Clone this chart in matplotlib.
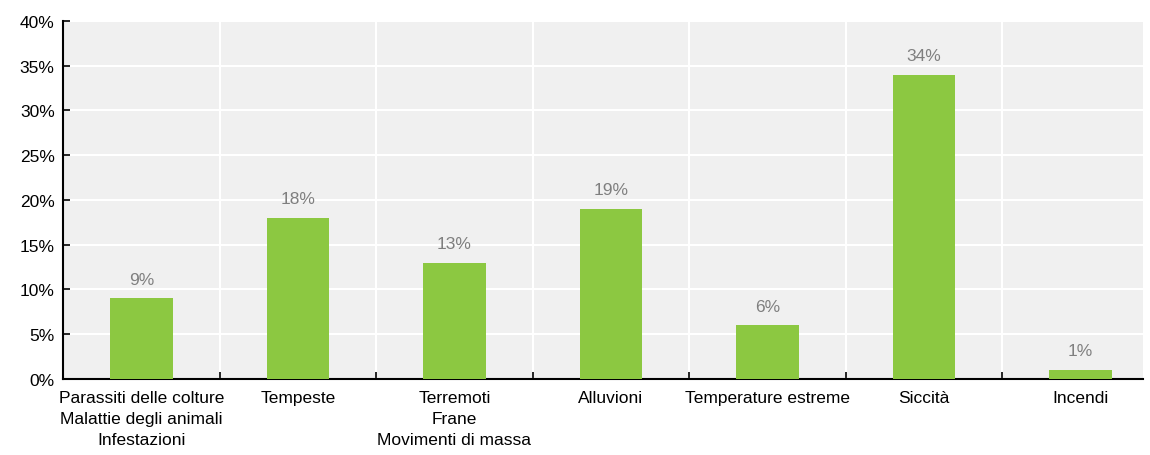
import numpy as np
import matplotlib.pyplot as plt
from matplotlib.ticker import PercentFormatter

plt.rcParams['font.family'] = ['Liberation Sans', 'DejaVu Sans']

categories = ["Parassiti delle colture\nMalattie degli animali\nInfestazioni",
              "Tempeste",
              "Terremoti\nFrane\nMovimenti di massa",
              "Alluvioni",
              "Temperature estreme",
              "Siccità",
              "Incendi"]
shares = [9, 18, 13, 19, 6, 34, 1]

fig = plt.figure(figsize=(11.5, 4.56), dpi=100)
ax = fig.add_axes([0.0548, 0.1667, 0.9392, 0.7851])
ax.set_facecolor('#f0f0f0')

x = np.arange(len(categories))
ax.bar(x, shares, width=0.40, color='#8cc841', zorder=3)
for xi, v in zip(x, shares):
    ax.text(xi, v + 1.3, f"{v}%", ha='center', va='bottom', fontsize=12.5, color='#7f7f7f')

ax.set_xlim(-0.5, 6.4)
ax.set_ylim(0, 40)
ax.set_yticks(np.arange(0, 41, 5))
ax.yaxis.set_major_formatter(PercentFormatter(decimals=0))

# category labels at centers, ticks/grid at boundaries
ax.set_xticks(x)
ax.set_xticklabels(categories, fontsize=12.5, linespacing=1.5)
ax.set_xticks(np.arange(-0.5, len(categories) - 1), minor=True)
ax.tick_params(axis='x', which='major', length=0, pad=8)
ax.tick_params(axis='x', which='minor', length=5, direction='in', width=1.2)
ax.tick_params(axis='y', length=5, direction='in', width=1.2, labelsize=12.5, pad=6)
ax.grid(True, axis='y', color='white', linewidth=1.5, zorder=1)
ax.grid(True, axis='x', which='minor', color='white', linewidth=1.5, zorder=1)

for side in ['top', 'right']:
    ax.spines[side].set_visible(False)
ax.spines['left'].set_linewidth(1.5)
ax.spines['bottom'].set_linewidth(1.5)
ax.set_axisbelow(True)

fig.savefig('out.png', dpi=100)
